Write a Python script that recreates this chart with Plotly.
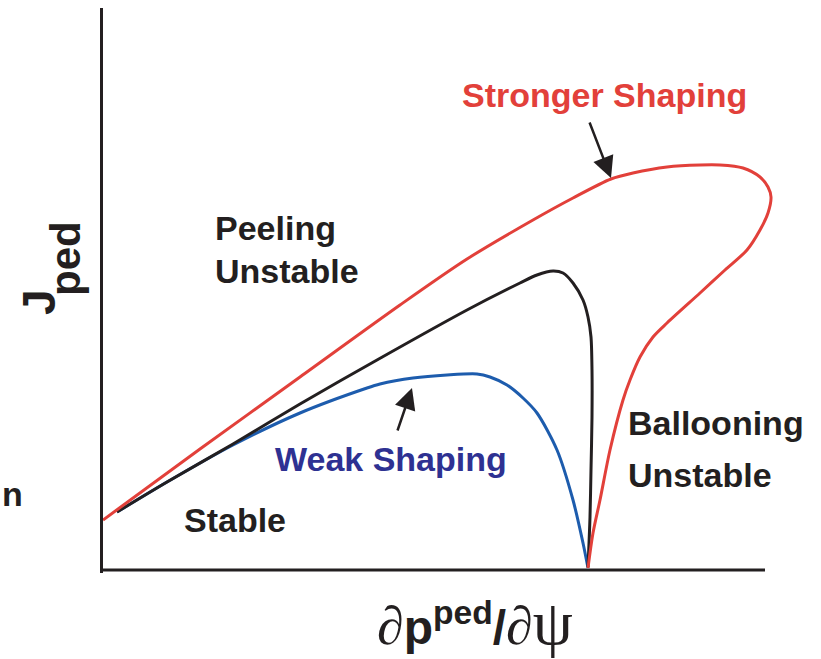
import plotly.graph_objects as go

# Units: arbitrary (pressure-gradient axis x, current-density axis y)
red_x = [0, 97, 197, 297, 364, 430, 470, 508, 530, 564, 597, 617, 640, 657, 665, 668, 665, 657, 644, 622, 597, 564, 550, 537, 527, 520, 507, 497, 490, 485]
red_y = [50, 121, 193, 265, 311, 350, 372, 391, 397, 403, 405, 405, 402, 393, 383, 373, 357, 340, 320, 300, 277, 247, 233, 213, 190, 170, 120, 70, 37, 2]

black_x = [14, 64, 130, 197, 274, 364, 417, 434, 450, 460, 470, 480, 485, 488, 489, 489, 488, 487, 485]
black_y = [58, 88, 126, 166, 210, 260, 287, 295, 299, 297, 287, 270, 253, 233, 200, 153, 100, 53, 3]

blue_x = [14, 64, 130, 197, 264, 277, 310, 344, 374, 387, 404, 420, 434, 454, 470, 480, 485]
blue_y = [58, 88, 125, 157, 182, 186, 192, 195, 196, 193, 185, 172, 157, 120, 70, 27, 2]

X_AXIS_END = 662
Y_AXIS_END = 562
X_RANGE = [0, 680]
Y_RANGE = [-3, Y_AXIS_END]

RED = '#E2403A'
BLACK = '#231F20'
BLUE_LINE = '#1D5CAD'
BLUE_TEXT = '#2E3192'
FONT = 'Liberation Sans, Arial, sans-serif'
SERIF = 'Liberation Serif, Times New Roman, serif'

fig = go.Figure()
for xs, ys, col in [(blue_x, blue_y, BLUE_LINE), (black_x, black_y, BLACK), (red_x, red_y, RED)]:
    fig.add_trace(go.Scatter(x=xs, y=ys, mode='lines',
                             line=dict(color=col, width=3, shape='spline', smoothing=0.8),
                             hoverinfo='skip'))

# bottom axis line
fig.add_shape(type='line', xref='x', yref='y', x0=0, x1=X_AXIS_END, y0=0, y1=0,
              line=dict(color=BLACK, width=3), layer='above')


def to_paper(x, y):
    return ((x - X_RANGE[0]) / (X_RANGE[1] - X_RANGE[0]),
            (y - Y_RANGE[0]) / (Y_RANGE[1] - Y_RANGE[0]))


def label(text, x, y, color=BLACK, size=34, xanchor='left', angle=0, bold=True):
    px, py = to_paper(x, y)
    fig.add_annotation(x=px, y=py, xref='paper', yref='paper',
                       text=('<b>' + text + '</b>') if bold else text, showarrow=False,
                       xanchor=xanchor, yanchor='middle', textangle=angle,
                       font=dict(family=FONT, size=size, color=color))


label('Stronger Shaping', 501, 475, color=RED, xanchor='center')
label('Peeling', 110, 342)
label('Unstable', 110, 299)
label('Weak Shaping', 288, 111, color=BLUE_TEXT, xanchor='center')
label('Stable', 132, 50, xanchor='center')
label('Ballooning', 523, 147)
label('Unstable', 523, 95)
label('n', -103, 76, xanchor='left')

# y title (J with subscript ped)
label('J', -64, 268, size=46, xanchor='center', angle=-90)
label('ped', -38, 311, size=42, xanchor='center', angle=-90)

# x title
label(("<span style='font-family:%s;font-weight:normal;font-size:54px'>∂</span>p<sup>ped</sup>/"
       "<span style='font-family:%s;font-weight:normal;font-size:54px'>∂</span>"
       "<span style='font-family:%s;font-weight:normal;font-size:64px'>ψ</span>") % (SERIF, SERIF, SERIF),
      372, -52, size=48, xanchor='center')

# arrows
fig.add_annotation(x=508, y=392, ax=486, ay=449, xref='x', yref='y', axref='x', ayref='y', text='',
                   showarrow=True, arrowhead=2, arrowsize=1.7, arrowwidth=2.5, arrowcolor=BLACK, standoff=0)
fig.add_annotation(x=309, y=182, ax=294, ay=138, xref='x', yref='y', axref='x', ayref='y', text='',
                   showarrow=True, arrowhead=2, arrowsize=1.7, arrowwidth=2.5, arrowcolor=BLACK, standoff=0)

fig.update_layout(
    width=821, height=659,
    margin=dict(l=103, r=38, t=8, b=86),
    paper_bgcolor='white', plot_bgcolor='white',
    showlegend=False,
    xaxis=dict(range=X_RANGE, showgrid=False, zeroline=False, showticklabels=False, ticks='', showline=False, fixedrange=True),
    yaxis=dict(range=Y_RANGE, showgrid=False, zeroline=False, showticklabels=False, ticks='',
               showline=True, linecolor=BLACK, linewidth=3, fixedrange=True),
)

fig.write_html('out.html', config={'displayModeBar': False})
